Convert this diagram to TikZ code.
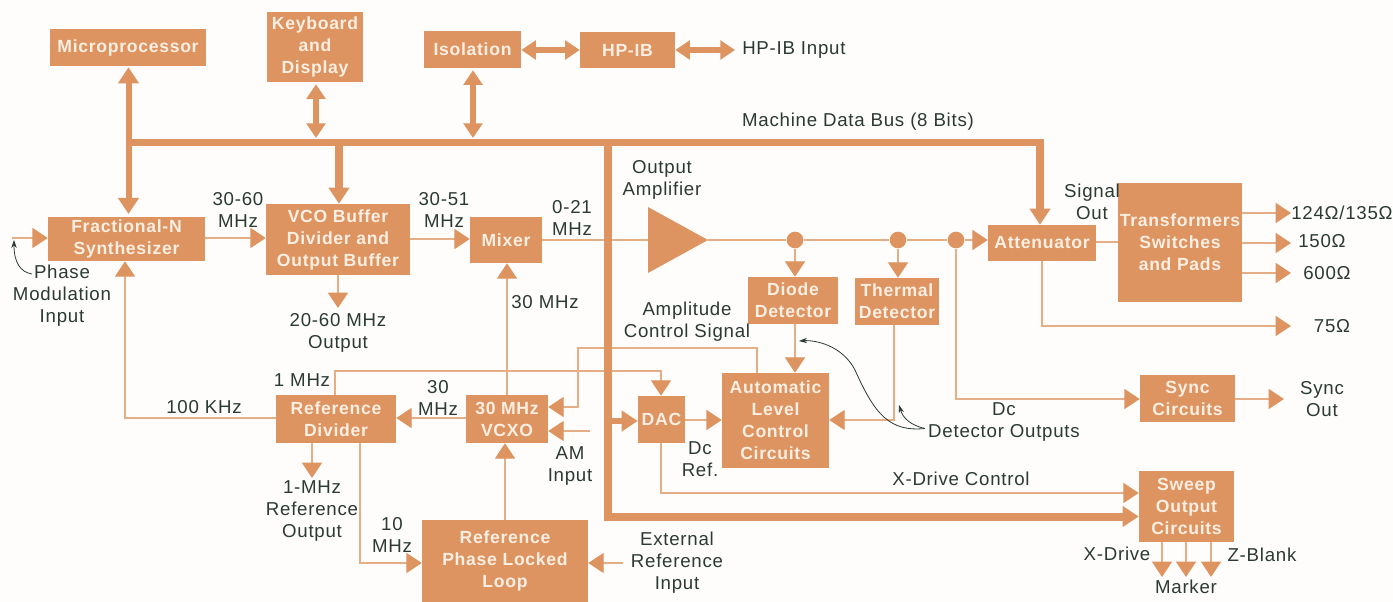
\documentclass[tikz,border=0pt]{standalone}
\usepackage{fontspec}
\setmainfont[LetterSpace=4]{Liberation Sans}
\usetikzlibrary{arrows.meta}
\definecolor{boxc}{HTML}{DD9460}
\definecolor{linec}{HTML}{E6AE85}
\definecolor{ink}{HTML}{2B3A33}
\definecolor{paper}{HTML}{FEFDFB}
\definecolor{boxt}{HTML}{FBEEE2}
\tikzset{
  blk/.style={rectangle,fill=boxc,inner sep=0pt,align=center,text=boxt,font=\fontsize{13.2}{16.5}\selectfont\bfseries},
  lbl/.style={inner sep=0pt,align=center,text=ink,font=\fontsize{14}{16.5}\selectfont},
  dotn/.style={circle,fill=boxc,inner sep=0pt,minimum size=12.5pt},
  sig/.style={draw=linec,line width=.9pt,-{Triangle[length=11.5pt,width=15pt,color=boxc]}},
  wire/.style={draw=linec,line width=.9pt},
  med/.style={draw=boxc,line width=4pt,{Triangle[length=11pt,width=14pt]}-{Triangle[length=11pt,width=14pt]}},
  busln/.style={draw=boxc,line width=5.5pt,-{Triangle[length=12pt,width=15pt]}},
  note/.style={draw=ink,line width=.6pt,-{Stealth[length=6pt,width=4pt]}}
}
\newcommand\blk[6]{\pgfmathsetmacro\bw{(#4-#2)*0.75}\pgfmathsetmacro\bh{(#5-#3)*0.75}%
  \node[blk,minimum width=\bw pt,minimum height=\bh pt] (#1) at ({(#2+#4)/2},{(#3+#5)/2}) {#6};}
\begin{document}
\begin{tikzpicture}[x=0.75pt,y=-0.75pt]
\path[use as bounding box,fill=paper] (0,0) rectangle (1393,602);
% blocks
\blk{mp}{50}{29}{206}{66}{Microprocessor}
\blk{kb}{267}{12}{363}{82}{Keyboard\\and\\Display}
\blk{iso}{424}{31}{521}{68}{Isolation}
\blk{hpib}{580}{32}{675}{68}{HP-IB}
\blk{frac}{48}{217}{205}{261}{Fractional-N\\Synthesizer}
\blk{vco}{266}{204}{410}{275}{VCO Buffer\\Divider and\\Output Buffer}
\blk{mix}{470}{217}{542}{263}{Mixer}
\blk{att}{988}{225}{1096}{261}{Attenuator}
\blk{diode}{748}{277}{838}{324}{Diode\\Detector}
\blk{therm}{855}{278}{939}{325}{Thermal\\Detector}
\blk{alc}{722}{373}{829}{468}{Automatic\\Level\\Control\\Circuits}
\blk{dac}{638}{396}{685}{443}{DAC}
\blk{refdiv}{276}{395}{396}{443}{Reference\\Divider}
\blk{vcxo}{466}{395}{548}{443}{30 MHz\\VCXO}
\blk{pll}{422}{520}{588}{602}{Reference\\Phase Locked\\Loop}
\blk{trans}{1118}{183}{1242}{302}{Transformers\\Switches\\and Pads}
\blk{sync}{1140}{375}{1235}{422}{Sync\\Circuits}
\blk{sweep}{1139}{471}{1234}{542}{Sweep\\Output\\Circuits}
% amplifier
\fill[boxc] (648,207) -- (708,240) -- (648,273) -- cycle;
\coordinate (ampin) at (648,240);
\coordinate (amptip) at (708,240);
% dots
\node[dotn] (d1) at (795,240) {};
\node[dotn] (d2) at (898,240) {};
\node[dotn] (d3) at (956,240) {};
% free ends
\coordinate (pmin) at (12,238);
\coordinate (amin) at (590,431);
\coordinate (extin) at (623,563);
\coordinate (o1) at (1291,213);
\coordinate (o2) at (1291,243);
\coordinate (o3) at (1291,273);
\coordinate (o4) at (1291,326);
\coordinate (syncout) at (1284,399);
\coordinate (bus) at (128.5,142.5);
\coordinate (busend) at (1040,142.5);
% thin signal lines
\draw[sig] (pmin) -- (frac.west |- pmin);
\draw[sig] (frac.east |- 0,238) -- (vco.west |- 0,238);
\draw[sig] (vco.east |- 0,239) -- (mix.west |- 0,239);
\draw[wire] (mix.east |- ampin) -- (ampin);
\draw[wire] (amptip) -- (d1) -- (d2) -- (d3);
\draw[sig] (d3) -- (att.west |- d3);
\draw[sig] (d1) -- (diode.north -| d1);
\draw[sig] (d2) -- (therm.north -| d2);
\draw[sig] (diode.south -| d1) -- (alc.north -| d1);
\draw[sig] (therm.south -| 894,0) -- (894,420) -- (alc.east |- 0,420);
\draw[sig] (dac.east |- 0,420) -- (alc.west |- 0,420);
\draw[sig] (alc.north -| 757,0) -- (757,348) -- (578,348) -- (578,407) -- (vcxo.east |- 0,407);
\draw[sig] (refdiv.north -| 335,0) -- (335,371) -- (661,371) -- (dac.north -| 661,0);
\draw[sig] (vcxo.west |- 0,418) -- (refdiv.east |- 0,418);
\draw[sig] (vcxo.north -| 507,0) -- (mix.south -| 507,0);
\draw[sig] (refdiv.west |- 0,418) -- (125,418) -- (frac.south -| 125,0);
\draw[sig] (amin) -- (vcxo.east |- amin);
\draw[sig] (vco.south -| 338,0) -- (338,308);
\draw[sig] (refdiv.south -| 312,0) -- (312,478);
\draw[sig] (refdiv.south -| 360,0) -- (360,563) -- (pll.west |- 0,563);
\draw[sig] (pll.north -| 505,0) -- (vcxo.south -| 505,0);
\draw[sig] (extin) -- (pll.east |- extin);
\draw[sig] (dac.south -| 661,0) -- (661,493) -- (sweep.west |- 0,493);
\draw[sig] (d3) -- (d3 |- 0,399) -- (sync.west |- 0,399);
\draw[sig] (sync.east |- syncout) -- (syncout);
\draw[wire] (att.east |- 0,242) -- (trans.west |- 0,242);
\draw[sig] (trans.east |- o1) -- (o1);
\draw[sig] (trans.east |- o2) -- (o2);
\draw[sig] (trans.east |- o3) -- (o3);
\draw[sig] (att.south -| 1042,0) -- (1042,326) -- (o4);
\draw[sig] (sweep.south -| 1162,0) -- (1162,577);
\draw[sig] (sweep.south -| 1186,0) -- (1186,577);
\draw[sig] (sweep.south -| 1211,0) -- (1211,577);
% bus
\draw[draw=boxc,line width=4.5pt,{Triangle[length=12pt,width=15pt]}-{Triangle[length=12pt,width=15pt]}] (mp.south -| bus) ++(0,1) -- (128.5,214);
\draw[busln] (bus) -- (busend) -- (att.north -| busend);
\draw[med] (kb.south -| 316,0) ++(0,2) -- (316,138);
\draw[med] (iso.south -| 473,0) ++(0,2) -- (473,138);
\draw[busln] (339,142.5) -- (vco.north -| 339,0);
\draw[med] (iso.east |- 0,50) -- (hpib.west |- 0,50);
\coordinate (hpibin) at (735,50);
\draw[med] (hpib.east |- hpibin) -- (hpibin);
\draw[busln,line width=6pt] (607.5,142.5) -- (607.5,516.5) -- (sweep.west |- 0,516.5);
\draw[draw=boxc,line width=5pt,-{Triangle[length=12pt,width=15pt]}] (607.5,421) -- (dac.west |- 0,421);
% labels
\node[lbl,anchor=west] (l1) at (742,50) {HP-IB Input};
\node[lbl] (l2) at (858,122) {Machine Data Bus (8 Bits)};
\node[lbl] (l3) at (62,295.5) {Phase\\Modulation\\Input};
\node[lbl] (l4) at (238,210) {30-60\\MHz};
\node[lbl] (l5) at (444,210) {30-51\\MHz};
\node[lbl] (l6) at (572,218) {0-21\\MHz};
\node[lbl] (l7) at (662,180) {Output\\Amplifier};
\node[lbl] (l8) at (1092,202) {Signal\\Out};
\node[lbl] (l9) at (1342,213) {124Ω/135Ω};
\node[lbl] (l10) at (1322,241) {150Ω};
\node[lbl] (l11) at (1327,273) {600Ω};
\node[lbl] (l12) at (1332,326) {75Ω};
\node[lbl] (l13) at (545,302) {30 MHz};
\node[lbl] (l14) at (338,332.5) {20-60 MHz\\Output};
\node[lbl] (l15) at (687,322) {Amplitude\\Control Signal};
\node[lbl] (l16) at (302,380) {1 MHz};
\node[lbl] (l17) at (204,407) {100 KHz};
\node[lbl] (l18) at (438,398) {30\\MHz};
\node[lbl] (l19) at (570,466.5) {AM\\Input};
\node[lbl] (l20) at (312,511.5) {1-MHz\\Reference\\Output};
\node[lbl] (l21) at (392,535) {10\\MHz};
\node[lbl] (l22) at (677,563) {External\\Reference\\Input};
\node[lbl] (l23) at (700,459) {Dc\\Ref.};
\node[lbl] (l24) at (961,479) {X-Drive Control};
\node[lbl] (l25) at (1004,422.5) {Dc\\Detector Outputs};
\node[lbl] (l26) at (1322,399) {Sync\\Out};
\node[lbl] (l27) at (1117,554) {X-Drive};
\node[lbl] (l28) at (1262,555) {Z-Blank};
\node[lbl] (l29) at (1186,587) {Marker};
% note arrows
\draw[note] (32,274) .. controls (20,272) and (14,262) .. (14,240);
\draw[note] (l25.west) ++(-3,6) .. controls (890,432) and (875,415) .. (855,370) .. controls (842,345) and (815,340) .. (799,341);
\draw[note] (l25.west) ++(-3,6) .. controls (910,425) and (903,418) .. (899,405);
\end{tikzpicture}
\end{document}
